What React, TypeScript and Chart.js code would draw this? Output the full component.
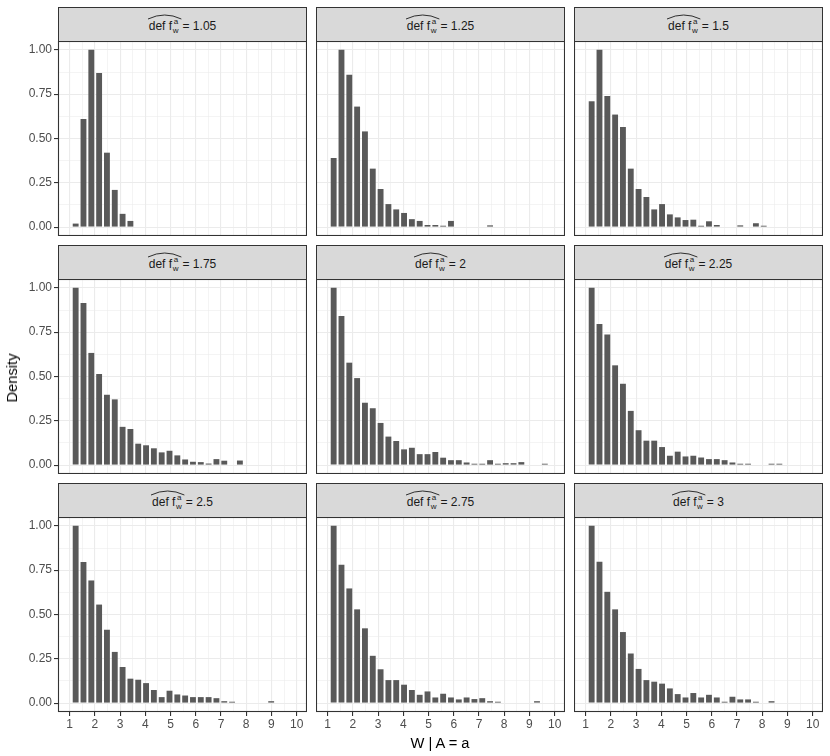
import { useEffect, useRef } from "react";
import { Chart, registerables } from "chart.js";
import type { ChartConfiguration, Plugin } from "chart.js";
Chart.register(...registerables);

const FONT = "'Liberation Sans', Arial, Helvetica, sans-serif";
Chart.defaults.font.family = FONT;

// shared histogram bin centres (x = W | A = a)
const binCentres = [
  1.24, 1.55, 1.86, 2.17, 2.48, 2.79, 3.1, 3.41, 3.72, 4.03, 4.34, 4.65, 4.96, 5.27,
  5.58, 5.89, 6.2, 6.51, 6.82, 7.13, 7.44, 7.75, 8.06, 8.37, 8.68, 8.99, 9.3, 9.61,
];

// tick labels
const xTickValues = [1, 2, 3, 4, 5, 6, 7, 8, 9, 10];
const yTickValues = [0, 0.25, 0.5, 0.75, 1];

// facet labels (value of the estimated def f)
const facetLabels = ["1.05", "1.25", "1.5", "1.75", "2", "2.25", "2.5", "2.75", "3"];

// scaled densities per facet, one value per bin
const density105 = [0.02, 0.61, 1.0, 0.87, 0.42, 0.21, 0.075, 0.035, 0, 0, 0, 0, 0, 0, 0, 0, 0, 0, 0, 0, 0, 0, 0, 0, 0, 0, 0, 0];
const density125 = [0.39, 1.0, 0.86, 0.68, 0.54, 0.33, 0.215, 0.13, 0.1, 0.08, 0.045, 0.035, 0.012, 0.012, 0.008, 0.035, 0, 0, 0, 0, 0.01, 0, 0, 0, 0, 0, 0, 0];
const density150 = [0.71, 1.0, 0.74, 0.635, 0.565, 0.33, 0.215, 0.17, 0.1, 0.13, 0.072, 0.055, 0.04, 0.042, 0.008, 0.033, 0.012, 0, 0, 0.01, 0, 0.022, 0.008, 0, 0, 0, 0, 0];
const density175 = [1.0, 0.915, 0.633, 0.514, 0.397, 0.371, 0.216, 0.204, 0.121, 0.112, 0.095, 0.072, 0.081, 0.055, 0.032, 0.019, 0.017, 0.009, 0.034, 0.025, 0, 0.026, 0, 0, 0, 0, 0, 0];
const density200 = [1.0, 0.841, 0.578, 0.491, 0.352, 0.321, 0.238, 0.161, 0.136, 0.089, 0.098, 0.062, 0.062, 0.074, 0.042, 0.028, 0.028, 0.015, 0.008, 0.008, 0.028, 0.008, 0.011, 0.011, 0.017, 0, 0, 0.008];
const density225 = [1.0, 0.796, 0.737, 0.563, 0.459, 0.306, 0.197, 0.138, 0.138, 0.102, 0.053, 0.076, 0.049, 0.053, 0.043, 0.034, 0.034, 0.028, 0.015, 0.008, 0.008, 0, 0, 0.008, 0.008, 0, 0, 0];
const density250 = [1.0, 0.796, 0.692, 0.556, 0.414, 0.289, 0.204, 0.138, 0.132, 0.113, 0.074, 0.034, 0.07, 0.049, 0.043, 0.034, 0.034, 0.034, 0.028, 0.011, 0.008, 0, 0, 0, 0, 0.011, 0, 0];
const density275 = [1.0, 0.781, 0.647, 0.529, 0.422, 0.267, 0.191, 0.13, 0.13, 0.104, 0.074, 0.047, 0.066, 0.032, 0.053, 0.032, 0.021, 0.032, 0.023, 0.028, 0.011, 0.008, 0, 0, 0, 0, 0.011, 0];
const density300 = [1.0, 0.798, 0.628, 0.529, 0.401, 0.28, 0.193, 0.13, 0.121, 0.11, 0.083, 0.051, 0.032, 0.057, 0.032, 0.047, 0.032, 0.008, 0.036, 0.021, 0.021, 0.008, 0, 0.011, 0, 0, 0, 0];

const facetValues = [
  density105, density125, density150,
  density175, density200, density225,
  density250, density275, density300,
];

// layout (px)
const COL_LEFT = [58, 316, 574];
const ROW_TOP = [7, 245, 483];
const PANEL_W = 249;
const STRIP_H = 34;
const PANEL_H = 195;
const Y_AXIS_W = 50;
const X_AXIS_H = 26;

const panelBorder: Plugin<"bar"> = {
  id: "panelBorder",
  afterDraw(chart) {
    const { ctx, chartArea: a } = chart;
    ctx.save();
    ctx.strokeStyle = "#333333";
    ctx.lineWidth = 1.1;
    ctx.strokeRect(a.left + 0.5, a.top + 0.5, a.width - 1, a.height - 1);
    ctx.restore();
  },
};

type PanelProps = {
  values: number[];
  showX: boolean;
  showY: boolean;
};

function Panel({ values, showX, showY }: PanelProps) {
  const canvasRef = useRef<HTMLCanvasElement | null>(null);
  const chartRef = useRef<Chart<"bar", { x: number; y: number }[]> | null>(null);

  useEffect(() => {
    const tickFont = { family: FONT, size: 12 };
    const config: ChartConfiguration<"bar", { x: number; y: number }[]> = {
      type: "bar",
      data: {
        datasets: [
          {
            data: binCentres.map((x, i) => ({ x, y: values[i] })),
            backgroundColor: "#595959",
            borderWidth: 0,
            barPercentage: 0.75,
            categoryPercentage: 1,
          },
        ],
      },
      options: {
        animation: false,
        responsive: true,
        maintainAspectRatio: false,
        layout: { padding: 0 },
        plugins: {
          legend: { display: false },
          tooltip: { enabled: false },
        },
        scales: {
          x: {
            type: "linear",
            min: 0.54,
            max: 10.41,
            offset: false,
            border: { display: false },
            grid: {
              offset: false,
              color: "#EBEBEB",
              lineWidth: (ctx: any) => (xTickValues.includes(ctx.tick?.value) ? 1.1 : 0.55),
              drawTicks: true,
              tickLength: 4,
              tickWidth: 1.1,
              tickColor: (ctx: any) =>
                showX && xTickValues.includes(ctx.tick?.value) ? "#333333" : "rgba(0,0,0,0)",
            },
            ticks: {
              display: showX,
              stepSize: 0.5,
              includeBounds: false,
              autoSkip: false,
              maxRotation: 0,
              padding: 1,
              color: "#4D4D4D",
              font: tickFont,
              callback: (v: any) => (xTickValues.includes(Number(v)) ? String(v) : ""),
            },
            afterFit: (s: any) => {
              s.height = showX ? X_AXIS_H : 0;
              s.paddingLeft = 0;
              s.paddingRight = 0;
              s.paddingTop = 0;
              s.paddingBottom = 0;
            },
          },
          y: {
            min: -0.05,
            max: 1.05,
            border: { display: false },
            grid: {
              color: "#EBEBEB",
              lineWidth: (ctx: any) => (yTickValues.includes(ctx.tick?.value) ? 1.1 : 0.55),
              drawTicks: true,
              tickLength: 4,
              tickWidth: 1.1,
              tickColor: (ctx: any) =>
                showY && yTickValues.includes(ctx.tick?.value) ? "#333333" : "rgba(0,0,0,0)",
            },
            ticks: {
              display: showY,
              stepSize: 0.125,
              includeBounds: false,
              autoSkip: false,
              padding: 2,
              color: "#4D4D4D",
              font: tickFont,
              callback: (v: any) => (yTickValues.includes(Number(v)) ? Number(v).toFixed(2) : ""),
            },
            afterFit: (s: any) => {
              s.width = showY ? Y_AXIS_W : 0;
              s.paddingLeft = 0;
              s.paddingRight = 0;
              s.paddingTop = 0;
              s.paddingBottom = 0;
            },
          },
        },
      },
      plugins: [panelBorder],
    };

    if (canvasRef.current) {
      chartRef.current = new Chart(canvasRef.current, config);
    }
    return () => {
      if (chartRef.current) chartRef.current.destroy();
    };
  }, [values, showX, showY]);

  return <canvas ref={canvasRef} />;
}

function StripLabel({ value }: { value: string }) {
  return (
    <span style={{ display: "inline-flex", alignItems: "baseline", whiteSpace: "nowrap" }}>
      <span style={{ position: "relative", display: "inline-block" }}>
        <svg
          style={{ position: "absolute", left: -1, top: -4, width: "calc(100% + 2px)", height: 5, overflow: "visible" }}
          viewBox="0 0 100 5"
          preserveAspectRatio="none"
        >
          <path
            d="M0,5 Q50,-3 100,5"
            fill="none"
            stroke="#1A1A1A"
            strokeWidth={0.9}
            vectorEffect="non-scaling-stroke"
          />
        </svg>
        def f
        <span style={{ display: "inline-block", position: "relative", width: 8, height: "1em" }}>
          <span style={{ position: "absolute", left: 1.5, top: -1, fontSize: 8, lineHeight: "9px" }}>a</span>
          <span style={{ position: "absolute", left: 0.5, top: 8.5, fontSize: 8, lineHeight: "9px" }}>w</span>
        </span>
      </span>
      <span>{"\u2009= " + value}</span>
    </span>
  );
}

export default function App() {
  useEffect(() => {
    document.body.style.margin = "0";
    document.body.style.background = "#FFFFFF";
  }, []);

  return (
    <div
      style={{
        position: "fixed",
        left: 0,
        top: 0,
        width: 830,
        height: 756,
        background: "#FFFFFF",
        fontFamily: FONT,
        overflow: "hidden",
      }}
    >
      {facetValues.map((values, i) => {
        const r = Math.floor(i / 3);
        const c = i % 3;
        const showX = r === 2;
        const showY = c === 0;
        const left = COL_LEFT[c];
        const top = ROW_TOP[r];
        return (
          <div key={i}>
            <div
              style={{
                position: "absolute",
                left,
                top,
                width: PANEL_W,
                height: STRIP_H + 1,
                boxSizing: "border-box",
                border: "1.1px solid #333333",
                background: "#D9D9D9",
                display: "flex",
                alignItems: "center",
                justifyContent: "center",
                fontSize: 12,
                color: "#1A1A1A",
                paddingTop: 1,
              }}
            >
              <StripLabel value={facetLabels[i]} />
            </div>
            <div
              style={{
                position: "absolute",
                left: left - (showY ? Y_AXIS_W : 0),
                top: top + STRIP_H,
                width: PANEL_W + (showY ? Y_AXIS_W : 0),
                height: PANEL_H + (showX ? X_AXIS_H : 0),
              }}
            >
              <Panel values={values} showX={showX} showY={showY} />
            </div>
          </div>
        );
      })}
      <div
        style={{
          position: "absolute",
          left: 12,
          top: 378,
          transform: "translate(-50%, -50%) rotate(-90deg)",
          fontSize: 14.7,
          color: "#000000",
          whiteSpace: "nowrap",
        }}
      >
        Density
      </div>
      <div
        style={{
          position: "absolute",
          left: 440,
          top: 743,
          transform: "translate(-50%, -50%)",
          fontSize: 14.7,
          color: "#000000",
          whiteSpace: "nowrap",
        }}
      >
        W | A = a
      </div>
    </div>
  );
}
